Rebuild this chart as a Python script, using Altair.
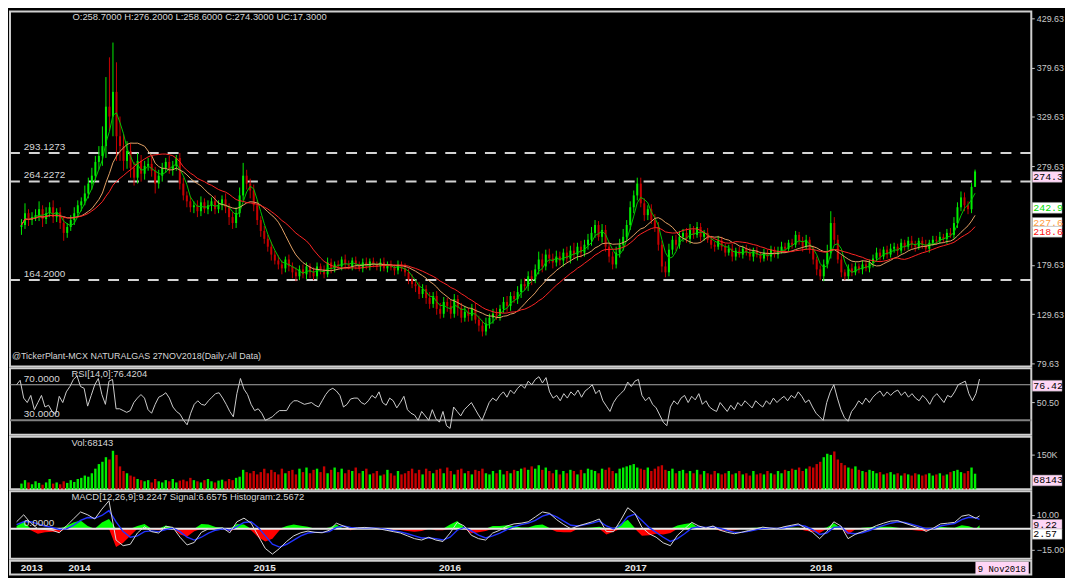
import altair as alt
import pandas as pd
import numpy as np

# ---------------- data (weekly bars) ----------------
closes = [220, 232, 225, 228,
          230, 236, 226, 232, 238, 228, 233,
          222, 212, 218, 225,
          232, 240, 244,
          252, 262,
          270, 284, 290,
          300, 340, 330, 355, 310,
          300, 285, 295,
          278, 268, 285, 272, 280,
          282, 275, 262, 270, 278, 284, 276, 280, 288,
          262, 250, 244, 238,
          240, 234, 243, 236, 240,
          244, 236, 240, 246, 238,
          228, 222, 232,
          250, 270, 262, 255,
          240, 225, 214, 206,
          198, 190, 184, 180, 176, 185,
          178, 172, 168, 175, 170, 178,
          172, 168, 178, 175, 170, 182, 176, 180, 178,
          185, 180, 178, 184, 180, 176, 182, 178, 183, 180,
          178, 182, 176, 180, 177, 174, 180, 176, 172,
          165, 160, 158, 150, 155,
          146, 140, 148, 135, 130, 142,
          138, 130, 145, 136, 126, 132,
          128, 135, 124, 118, 112,
          120, 126, 130, 128,
          135, 142, 138, 148, 145,
          152, 160, 158, 168, 165,
          175, 185, 178, 190, 186,
          182, 188, 184, 192, 186, 194,
          190, 198, 192, 200,
          205, 212, 220, 208, 215,
          198, 188, 180, 192,
          200, 208,
          220, 238, 250, 262,
          242, 230, 236, 225, 218,
          200, 178, 172,
          195, 205, 200, 208,
          212, 206, 215, 210, 218, 208, 212,
          205, 200, 198, 204,
          198, 192, 196, 188, 194, 190, 196,
          192, 188, 194, 190, 186, 192, 188, 195, 190, 194, 198,
          196, 202,
          200, 210, 204, 198, 205, 195,
          185, 175, 168, 180,
          192, 222, 205,
          185, 172, 168, 176,
          172, 178, 175, 180, 176, 182,
          186, 192, 188, 195, 190, 196,
          198, 194, 202, 198, 204, 200,
          198, 204, 200, 196, 202, 205,
          204, 208, 206, 212, 210,
          222, 238, 248, 240,
          236, 258.7,
          274.3]

wick_hi = [6, 10, 4, 5, 6, 8, 4, 6, 5, 7,
           4, 5, 6, 4, 5, 6, 5, 4, 8, 6,
           8, 6, 10, 20, 30, 50, 50, 30, 20, 12,
           10, 8, 6, 8, 6, 5, 6, 8, 4, 6,
           5, 4, 6, 5, 3, 5, 6, 4, 5, 4,
           5, 6, 4, 5, 4, 6, 5, 4, 6, 4,
           5, 6, 8, 13, 6, 5, 6, 5, 4, 5,
           4, 5, 4, 5, 4, 3, 5, 4, 5, 4,
           5, 4, 3, 5, 4, 3, 4, 5, 4, 3,
           4, 3, 5, 4, 3, 4, 3, 4, 5, 3,
           4, 3, 4, 5, 3, 4, 3, 4, 3, 5,
           4, 5, 3, 4, 5, 4, 6, 4, 5, 6,
           5, 4, 6, 5, 4, 5, 6, 4, 5, 6,
           4, 5, 6, 4, 5, 6, 4, 5, 6, 4,
           5, 6, 5, 6, 5, 6, 5, 8, 6, 5,
           6, 5, 6, 5, 4, 6, 5, 8, 4, 6,
           5, 6, 6, 5, 4, 6, 5, 4, 5, 6,
           6, 8, 5, 6, 5, 6, 6, 5, 4, 5,
           6, 5, 4, 5, 6, 4, 5, 6, 4, 5,
           6, 4, 5, 4, 3, 5, 4, 3, 5, 4,
           3, 4, 5, 3, 4, 3, 4, 5, 3, 4,
           3, 4, 3, 4, 3, 4, 5, 4, 3, 4,
           4, 3, 4, 5, 3, 4, 3, 4, 5, 8,
           12, 6, 5, 4, 3, 4, 5, 4, 3, 4,
           4, 3, 4, 5, 4, 3, 4, 5, 4, 3,
           4, 3, 4, 5, 4, 3, 4, 5, 3, 4,
           4, 5, 3, 4, 5, 6, 5, 6, 5, 4,
           4, 1.9]

wick_lo = [8, 4, 6, 5, 4, 6, 8, 5, 4, 6,
           5, 6, 8, 5, 4, 5, 4, 6, 4, 5,
           6, 5, 8, 10, 12, 15, 20, 25, 15, 10,
           8, 10, 8, 6, 8, 6, 5, 6, 10, 5,
           6, 5, 4, 6, 5, 6, 5, 6, 5, 6,
           6, 5, 4, 5, 6, 5, 4, 5, 6, 8,
           6, 5, 4, 5, 6, 8, 6, 5, 6, 5,
           5, 6, 4, 5, 6, 4, 5, 6, 5, 4,
           4, 5, 6, 4, 3, 5, 4, 3, 5, 4,
           3, 4, 5, 3, 4, 5, 3, 4, 3, 4,
           3, 4, 5, 3, 4, 3, 5, 4, 3, 4,
           5, 4, 6, 5, 4, 6, 5, 4, 6, 5,
           4, 6, 5, 4, 8, 5, 4, 6, 5, 4,
           6, 5, 4, 5, 6, 4, 5, 4, 6, 5,
           4, 5, 6, 4, 5, 6, 4, 5, 6, 4,
           5, 6, 4, 5, 6, 4, 5, 4, 6, 5,
           4, 5, 6, 5, 4, 6, 5, 6, 5, 4,
           5, 6, 4, 5, 6, 5, 4, 6, 5, 4,
           5, 6, 6, 5, 4, 5, 6, 4, 5, 4,
           5, 4, 3, 5, 4, 3, 4, 5, 3, 4,
           4, 3, 5, 4, 3, 4, 3, 4, 5, 3,
           4, 3, 4, 5, 3, 4, 3, 4, 3, 4,
           3, 4, 5, 3, 4, 5, 6, 4, 5, 4,
           6, 5, 4, 5, 4, 3, 4, 3, 4, 5,
           3, 4, 5, 3, 4, 3, 4, 3, 4, 5,
           3, 4, 3, 4, 5, 3, 4, 3, 4, 3,
           4, 3, 4, 5, 3, 4, 5, 4, 6, 5,
           4, 0.1]

volume_k = [25, 40, 30, 22, 35, 28, 20, 30, 45, 25,
            30, 22, 35, 28, 40, 32, 45, 50, 60, 55,
            70, 90, 110, 120, 140, 130, 168, 150, 100, 80,
            70, 60, 55, 45, 40, 35, 40, 30, 45, 35,
            30, 40, 35, 45, 30, 38, 42, 35, 50, 40,
            35, 30, 40, 45, 35, 30, 38, 42, 35, 45,
            40, 50, 55, 85, 75, 70, 80, 65, 75, 90,
            70, 85, 75, 65, 90, 70, 80, 85, 65, 90,
            75, 95, 70, 85, 90, 75, 100, 70, 85, 95,
            75, 90, 70, 85, 80, 95, 70, 80, 90, 65,
            70, 80, 60, 65, 85, 70, 60, 80, 65, 70,
            80, 90, 70, 85, 65, 90, 80, 70, 85, 90,
            70, 95, 80, 65, 85, 90, 70, 80, 65, 85,
            80, 90, 70, 65, 80, 70, 85, 65, 80, 70,
            85, 80, 90, 95, 85, 100, 90, 105, 85, 95,
            80, 70, 85, 65, 80, 70, 85, 80, 65, 85,
            70, 90, 85, 80, 70, 90, 85, 95, 80, 70,
            90, 95, 100, 105, 110, 95, 90, 85, 95, 80,
            90, 100, 105, 85, 80, 90, 70, 80, 85, 70,
            80, 70, 85, 65, 80, 70, 65, 80, 70, 65,
            70, 80, 65, 70, 80, 65, 70, 60, 80, 65,
            70, 65, 80, 70, 65, 80, 70, 85, 80, 90,
            85, 95, 80, 90, 100, 95, 110, 120, 140, 155,
            150, 165, 130, 115, 105, 95, 90, 100, 85, 80,
            75, 85, 80, 70, 75, 65, 70, 75, 65, 70,
            60, 70, 65, 60, 70, 65, 60, 65, 70, 60,
            65, 70, 60, 65, 75, 80, 85, 75, 70, 80,
            95, 68.143]

rsi_vals = [70, 75, 55, 50, 58, 42, 50, 58, 45, 47,
            40, 37, 57, 50, 62, 68, 76, 80, 68, 66,
            46, 58, 70, 77, 59, 48, 74, 76, 43, 43,
            41, 39, 41, 50, 55, 59, 55, 42, 38, 48,
            56, 58, 61, 55, 45, 40, 37, 30, 25, 38,
            48, 52, 48, 47, 52, 56, 60, 61, 55, 48,
            40, 34, 60, 77, 65, 59, 48, 41, 43, 38,
            30, 32, 34, 38, 41, 41, 41, 48, 52, 52,
            50, 48, 49, 50, 47, 45, 52, 59, 64, 66,
            63, 58, 45, 48, 54, 55, 55, 50, 48, 52,
            58, 55, 62, 50, 47, 55, 52, 44, 50, 57,
            42, 38, 36, 30, 40, 35, 30, 42, 32, 28,
            40, 24, 21, 45, 40, 35, 42, 46, 50, 43,
            36, 30, 40, 50, 55, 52, 58, 62, 56, 64,
            60, 66, 70, 66, 74, 70, 76, 79, 72, 78,
            62, 55, 58, 52, 60, 55, 62, 58, 64, 56,
            63, 66, 70, 60, 64, 52, 46, 40, 50, 56,
            60, 64, 73, 68, 74, 76, 58, 52, 56, 48,
            44, 36, 28, 24, 45, 52, 48, 55, 58, 50,
            57, 53, 60, 48, 52, 45, 42, 40, 50, 45,
            40, 47, 42, 50, 46, 52, 48, 44, 52, 48,
            45, 52, 48, 55, 50, 54, 57, 52, 58, 55,
            62, 57, 50, 53, 45, 38, 34, 30, 50, 62,
            70, 55, 42, 33, 29, 40, 45, 52, 48, 55,
            50, 56, 60, 63, 57, 62, 58, 62, 64, 58,
            62, 56, 60, 55, 52, 58, 54, 48, 56, 60,
            55, 50, 58, 56, 62, 70, 72, 74, 60, 52,
            60, 76.4204]

# MACD / signal every second bar (plus the last bar)
macd_vals = [5, 10, 4, 0, -0.5, -1, -2.8, 2, 7, 12,
             10, 7, 14, 20, -8, -12, -11, -3, 1.5, -2,
             -3, 1.8, 1, -6, -11.5, -9.7, -2.5, 0, 0.3, 0.7,
             -2.8, 5, 7.6, 4, -5, -14, -18, -14, -9, -5,
             -2.8, -1.6, -2.5, -2.8, -1, 4, 2, 0, 0.7, 1,
             0.5, 0, -1, -2, -3, -5, -7, -8, -6, -8,
             -9, -3, 4.5, 2, -4.6, -7, -8, -3, -1, 2,
             3.5, 4, 5, 8.5, 12, 11, 6.5, 3, 0, 2,
             3.5, 5, 7, -2, -2, 6, 15, 11, 1, -3.5,
             -6, -10, -12, -4.6, 0, 4.6, 2, 0.5, 2, -1,
             -2.5, -3.5, -2.5, -1.2, 0, 1.2, 0.5, 0, 1.5, 2.5,
             3.5, 0.5, -2.5, -7, -2, 5, 2, -7, -4, -2,
             0, 2.3, 4, 5.5, 5.8, 4, 2.3, 0.5, -1.8, 0.5,
             3.5, 4, 4.6, 9, 10, 7.5, 9.2247]

signal_vals = [3, 5, 5, 3.5, 2, 1, -0.5, 0, 2.5, 6,
               8, 7.5, 9.5, 13, 5, -2, -6, -5, -2, -1.5,
               -2, -0.5, 0.5, -2, -6, -8, -6, -3, -1, 0,
               -1, 1.5, 4.5, 5, 1, -5, -11, -13, -11, -8,
               -5, -3, -2.5, -2.5, -2, 1, 2, 1, 0.7, 0.8,
               0.6, 0.3, -0.5, -1.3, -2.2, -3.5, -5, -6.5, -6.5, -7,
               -8, -6, -1, 1, -1.5, -4.5, -6.5, -5, -3, -0.5,
               1.5, 3, 4, 6, 9, 10.5, 8.5, 5.5, 2.5, 2,
               3, 4, 5.5, 2, 0, 2.5, 8.5, 10.5, 6, 1,
               -2.5, -6, -9, -7, -3.5, 0.5, 1.5, 1, 1.5, 0.3,
               -1.2, -2.5, -2.5, -1.8, -0.8, 0.3, 0.5, 0.2, 0.8, 1.8,
               2.8, 1.8, -0.5, -4, -3, 1, 1.5, -3, -3.5, -2.8,
               -1.2, 0.8, 2.5, 4, 5, 4.5, 3.2, 1.8, 0, 0.2,
               2, 3, 3.8, 6.5, 8.2, 7.8, 6.6575]

first_open = 218.0
last_change = 17.3
levels = [293.1273, 264.2272, 164.2]
ma_windows = [4, 12, 20]
ma_colors = ["#00c400", "#e3a266", "#ff2424"]
ma_last = [242.9, 227.6, 218.6]
ma_label_colors = ["#00dd00", "#ff9c40", "#ff1010"]
price_ticks = [79.63, 129.63, 179.63, 279.63, 329.63, 379.63, 429.63]
year_text = ["2013", "2014", "2015", "2016", "2017", "2018"]
year_pos = ["2013-09-29", "2014-01-01", "2015-01-01", "2016-01-01", "2017-01-01", "2018-01-01"]

# ---------------- tables ----------------
n = min(len(closes), len(wick_hi), len(wick_lo), len(volume_k), len(rsi_vals))
closes = closes[-n:]
wick_hi = wick_hi[-n:]
wick_lo = wick_lo[-n:]
volume_k = volume_k[-n:]
rsi_vals = rsi_vals[-n:]
dates = pd.date_range(end="2018-11-09", periods=n, freq="7D")
opens = [first_open] + closes[:-1]
highs = [max(o, c) + h for o, c, h in zip(opens, closes, wick_hi)]
lows = [min(o, c) - l for o, c, l in zip(opens, closes, wick_lo)]
df = pd.DataFrame({
    "date": dates.strftime("%Y-%m-%d"),
    "open": opens, "close": closes, "high": highs, "low": lows,
    "vol": volume_k, "rsi": rsi_vals,
})
df["dir"] = np.where(df["close"] >= df["open"], "up", "down")

m_idx = list(range(0, n - 1, 2)) + [n - 1]
m = min(len(m_idx), len(macd_vals), len(signal_vals))
mdf = pd.DataFrame({
    "date": [df["date"].iloc[i] for i in m_idx[-m:]],
    "macd": macd_vals[-m:], "signal": signal_vals[-m:],
})

# ---------------- styling ----------------
W = 1030
H_PRICE, H_RSI, H_VOL, H_MACD, H_STRIP = 358, 67, 53, 68, 14
TXT = "#d6d6d6"
UP, DN = "#00ee00", "#c80000"
FONT = "Liberation Sans"
MONO = "Liberation Mono"

XS = alt.Scale(domain=[alt.DateTime(year=2013, month=8, date=17, utc=True),
                       alt.DateTime(year=2019, month=2, date=19, utc=True)])
COL = alt.Scale(domain=["up", "down"], range=[UP, DN])


def X(field="date:T"):
    return alt.X(field, scale=XS, axis=None)


def right_axis(values, fmt=".2f", expr=None):
    kw = dict(orient="right", values=values, format=fmt, labelColor="#c8c8c8",
              tickColor="#c8c8c8", tickSize=3, labelFontSize=9, labelFont=FONT,
              domain=False, grid=False, title=None, labelPadding=2)
    if expr:
        kw["labelExpr"] = expr
    return alt.Axis(**kw)


def label_text(txt, x, y, size=9.5, color=TXT, align="left"):
    return alt.Chart(pd.DataFrame({"t": [txt]})).mark_text(
        align=align, baseline="middle", fontSize=size, color=color, font=FONT
    ).encode(x=alt.value(x), y=alt.value(y), text="t:N")


def value_boxes(values, fills, tcolors, texts, yscale, axis, box_h, gap=0.0):
    layers = []
    for v, f, c, t in zip(values, fills, tcolors, texts):
        top = v - gap
        bdf = pd.DataFrame({"top": [top], "bot": [top - box_h], "mid": [top - box_h / 2], "t": [t]})
        layers.append(alt.Chart(bdf).mark_rect(fill=f, stroke="#909090", strokeWidth=0.5).encode(
            x=alt.value(W + 1), x2=alt.value(W + 31),
            y=alt.Y("top:Q", scale=yscale, axis=axis), y2="bot:Q"))
        layers.append(alt.Chart(bdf).mark_text(align="left", baseline="middle", font=MONO,
                                               fontSize=10, color=c).encode(
            x=alt.value(W + 2), y=alt.Y("mid:Q", scale=yscale, axis=axis), text="t:N"))
    return layers


# ---------------- price panel ----------------
PY = alt.Scale(domain=[76.65, 436.6], nice=False, zero=False)
PAX = right_axis(price_ticks)

wicks = alt.Chart(df).mark_rule(strokeWidth=1).encode(
    x=X(), y=alt.Y("low:Q", scale=PY, axis=PAX), y2="high:Q",
    color=alt.Color("dir:N", scale=COL, legend=None))
bodies = alt.Chart(df).mark_bar(width=2).encode(
    x=X(), y=alt.Y("open:Q", scale=PY, axis=PAX), y2="close:Q",
    color=alt.Color("dir:N", scale=COL, legend=None))

ma_layers = []
for k, c in zip(ma_windows, ma_colors):
    ma_layers.append(alt.Chart(df).transform_window(
        ma="mean(close)", frame=[-(k - 1), 0], sort=[alt.SortField("date")]
    ).mark_line(color=c, strokeWidth=1).encode(
        x=X(), y=alt.Y("ma:Q", scale=PY, axis=PAX)))

lv = pd.DataFrame({"level": levels, "label": [f"{v:.4f}" for v in levels]})
lv_rules = alt.Chart(lv).mark_rule(color="#d4d4d4", strokeWidth=2, strokeDash=[11, 9]).encode(
    y=alt.Y("level:Q", scale=PY, axis=PAX))
lv_text = alt.Chart(lv).mark_text(align="left", baseline="bottom", dy=-1, fontSize=10,
                                  color=TXT, font=FONT).encode(
    x=alt.value(14), y=alt.Y("level:Q", scale=PY, axis=PAX), text="label:N")

header = (f"O:{opens[-1]:.4f}  H:{highs[-1]:.4f}  L:{lows[-1]:.4f}  "
          f"C:{closes[-1]:.4f}  UC:{last_change:.4f}")
p_boxes = value_boxes([closes[-1]] + ma_last, ["#ffd6f6", "#ffffff", "#ffffff", "#ffffff"],
                      ["#000000"] + ma_label_colors,
                      [f"{closes[-1]:.1f}"] + [f"{v:.1f}" for v in ma_last], PY, PAX, 11)

price = alt.layer(
    lv_rules, wicks, bodies, *ma_layers, lv_text,
    label_text(header, 63, 6),
    label_text("@TickerPlant-MCX NATURALGAS 27NOV2018(Daily:All Data)", 2, H_PRICE - 10, size=9),
    *p_boxes
).properties(width=W, height=H_PRICE)

# ---------------- RSI panel ----------------
RY = alt.Scale(domain=[13.8, 88.4], nice=False, zero=False)
RAX = right_axis([50.5])
rsi_lines = pd.DataFrame({"v": [70, 30], "t": ["70.0000", "30.0000"]})
r70 = alt.Chart(rsi_lines.iloc[:1]).mark_rule(color="#a8a8a8", strokeWidth=1).encode(
    y=alt.Y("v:Q", scale=RY, axis=RAX))
r30 = alt.Chart(rsi_lines.iloc[1:]).mark_rule(color="#808080", strokeWidth=2).encode(
    y=alt.Y("v:Q", scale=RY, axis=RAX))
r_lbl = alt.Chart(rsi_lines).mark_text(align="left", baseline="bottom", dy=-1, fontSize=10,
                                       color=TXT, font=FONT).encode(
    x=alt.value(14), y=alt.Y("v:Q", scale=RY, axis=RAX), text="t:N")
r_line = alt.Chart(df).mark_line(color="#cccccc", strokeWidth=1).encode(
    x=X(), y=alt.Y("rsi:Q", scale=RY, axis=RAX))
r_boxes = value_boxes([rsi_vals[-1]], ["#ffd6f6"], ["#000000"], [f"{rsi_vals[-1]:.2f}"], RY, RAX, 12.2, 1.5)
rsi = alt.layer(
    r70, r30, r_line, r_lbl,
    label_text(f"RSI[14,0]:{rsi_vals[-1]:.4f}", 62, 6),
    *r_boxes
).properties(width=W, height=H_RSI)

# ---------------- volume panel ----------------
VY = alt.Scale(domain=[0, 229], nice=False)
VAX = right_axis([150], fmt="d", expr="datum.value + 'K'")
v_bars = alt.Chart(df).mark_bar(width=2.4).encode(
    x=X(), y=alt.Y("vol:Q", scale=VY, axis=VAX),
    color=alt.Color("dir:N", scale=COL, legend=None))
last_vol = int(round(volume_k[-1] * 1000))
v_boxes = value_boxes([volume_k[-1]], ["#ffd6f6"], ["#000000"], [str(last_vol)], VY, VAX, 47, 6)
vol = alt.layer(
    v_bars, label_text(f"Vol:{last_vol}", 62, 6), *v_boxes
).properties(width=W, height=H_VOL)

# ---------------- MACD panel ----------------
MY = alt.Scale(domain=[-21.3, 26.7], nice=False, zero=False)
MAX_ = right_axis([10, -15])
mbase = alt.Chart(mdf).transform_calculate(
    hp="max(datum.macd - datum.signal, 0)",
    hn="min(datum.macd - datum.signal, 0)",
    z="0")
h_pos = mbase.mark_area(color="#00ff00", interpolate="linear").encode(
    x=X(), y=alt.Y("hp:Q", scale=MY, axis=MAX_), y2="z:Q")
h_neg = mbase.mark_area(color="#ff0000", interpolate="linear").encode(
    x=X(), y=alt.Y("hn:Q", scale=MY, axis=MAX_), y2="z:Q")
zero = alt.Chart(pd.DataFrame({"v": [0], "t": ["0.0000"]}))
z_rule = zero.mark_rule(color="#e8e8e8", strokeWidth=2).encode(y=alt.Y("v:Q", scale=MY, axis=MAX_))
z_lbl = zero.mark_text(align="left", baseline="bottom", dy=-1, fontSize=10, color=TXT, font=FONT).encode(
    x=alt.value(14), y=alt.Y("v:Q", scale=MY, axis=MAX_), text="t:N")
m_line = alt.Chart(mdf).mark_line(color="#d8d8d8", strokeWidth=1).encode(
    x=X(), y=alt.Y("macd:Q", scale=MY, axis=MAX_))
s_line = alt.Chart(mdf).mark_line(color="#2233ff", strokeWidth=1.4).encode(
    x=X(), y=alt.Y("signal:Q", scale=MY, axis=MAX_))
mlast, slast = macd_vals[-1], signal_vals[-1]
m_boxes = value_boxes([mlast, mlast - slast], ["#ffd6f6", "#ffffff"], ["#000000", "#000000"],
                      [f"{mlast:.2f}", f"{mlast - slast:.2f}"], MY, MAX_, 7.4, 2.6)
macd = alt.layer(
    h_pos, h_neg, z_rule, s_line, m_line, z_lbl,
    label_text(f"MACD[12,26,9]:{mlast:.4f} Signal:{slast:.4f} Histogram:{mlast - slast:.4f}", 62, 6),
    *m_boxes
).properties(width=W, height=H_MACD)

# ---------------- date strip ----------------
ydf = pd.DataFrame({"date": year_pos, "t": year_text})
years = alt.Chart(ydf).mark_text(fontSize=10, fontWeight="bold", color="#e4e4e4",
                                 baseline="middle", font=FONT).encode(
    x=X(), y=alt.value(7), text="t:N")
end_df = pd.DataFrame({"d0": ["2018-11-01"], "d1": ["2019-02-14"], "dm": ["2018-12-23"], "t": ["9 Nov2018"]})
end_box = alt.Chart(end_df).mark_rect(fill="#ffd6f6").encode(
    x=X("d0:T"), x2="d1:T", y=alt.value(1), y2=alt.value(14))
end_txt = alt.Chart(end_df).mark_text(font=MONO, fontSize=9, color="#000000", baseline="middle").encode(
    x=X("dm:T"), y=alt.value(8), text="t:N")
strip = alt.layer(years, end_box, end_txt).properties(width=W, height=H_STRIP)

chart = alt.vconcat(price, rsi, vol, macd, strip, spacing=2, bounds="flush").properties(
    padding={"left": 0, "right": 0, "top": 0, "bottom": 0}
).configure(background="#000000").configure_view(
    stroke="#d0d0d0", strokeWidth=2, fill="#000000"
).configure_text(font=FONT)

chart.save("out.html", embed_options={"renderer": "svg", "actions": False})
